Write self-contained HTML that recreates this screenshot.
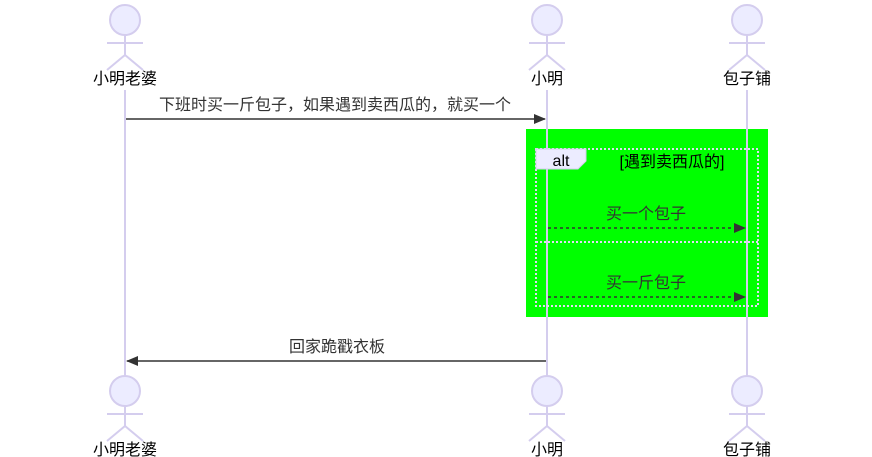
<!DOCTYPE html>
<html><head><meta charset="utf-8"><style>
html,body{margin:0;padding:0;background:#fff;width:872px;height:457px;overflow:hidden}
text{font-family:"Liberation Sans","Noto Sans CJK SC",sans-serif;font-size:16px}
</style></head><body>
<svg width="872" height="457" viewBox="0 0 872 457" xmlns="http://www.w3.org/2000/svg">
<defs>
<marker id="ah" markerWidth="12" markerHeight="10" refX="11" refY="5" orient="auto" markerUnits="userSpaceOnUse">
<path d="M0,0 L12,5 L0,10 z" fill="#333"/></marker>
<g id="actor" fill="none" stroke="#d4cdee" stroke-width="2">
<circle cx="0" cy="0" r="15" fill="#ececff"/>
<line x1="0" y1="15" x2="0" y2="35"/>
<line x1="-18" y1="23" x2="18" y2="23"/>
<line x1="0" y1="35" x2="-18" y2="50"/>
<line x1="0" y1="35" x2="18" y2="50"/>
</g>
</defs>
<rect x="526" y="129" width="242" height="188" fill="#00ff00"/>
<g stroke="#d4cdee" stroke-width="2">
<line x1="125" y1="90" x2="125" y2="376"/>
<line x1="547" y1="90" x2="547" y2="376"/>
<line x1="747" y1="90" x2="747" y2="376"/>
</g>
<use href="#actor" x="125" y="20"/>
<use href="#actor" x="547" y="20"/>
<use href="#actor" x="747" y="20"/>
<use href="#actor" x="125" y="391"/>
<use href="#actor" x="547" y="391"/>
<use href="#actor" x="747" y="391"/>
<g text-anchor="middle" fill="#000">
<text x="125" y="84">小明老婆</text>
<text x="547" y="84">小明</text>
<text x="747" y="84">包子铺</text>
<text x="125" y="455">小明老婆</text>
<text x="547" y="455">小明</text>
<text x="747" y="455">包子铺</text>
</g>
<text x="335" y="110" text-anchor="middle" fill="#333">下班时买一斤包子，如果遇到卖西瓜的，就买一个</text>
<line x1="126" y1="119" x2="545" y2="119" stroke="#333" stroke-width="1.5" marker-end="url(#ah)"/>
<rect x="536" y="149" width="222" height="157" fill="none" stroke="#e0dcf3" stroke-width="2" stroke-dasharray="2,2"/>
<line x1="536" y1="242" x2="758" y2="242" stroke="#e0dcf3" stroke-width="2" stroke-dasharray="2,2"/>
<path d="M536,149 H586 V161 L578,169 H536 Z" fill="#ececff" stroke="#d4cdee"/>
<text x="561" y="166" text-anchor="middle" fill="#000">alt</text>
<text x="672" y="167" text-anchor="middle" fill="#000">[遇到卖西瓜的]</text>
<text x="646" y="219" text-anchor="middle" fill="#333">买一个包子</text>
<line x1="548" y1="228" x2="745" y2="228" stroke="#333" stroke-width="1.5" stroke-dasharray="3,3" marker-end="url(#ah)"/>
<text x="646" y="288" text-anchor="middle" fill="#333">买一斤包子</text>
<line x1="548" y1="297" x2="745" y2="297" stroke="#333" stroke-width="1.5" stroke-dasharray="3,3" marker-end="url(#ah)"/>
<text x="337" y="352" text-anchor="middle" fill="#333">回家跪戳衣板</text>
<line x1="546" y1="361" x2="127" y2="361" stroke="#333" stroke-width="1.5" marker-end="url(#ah)"/>
</svg>
</body></html>
